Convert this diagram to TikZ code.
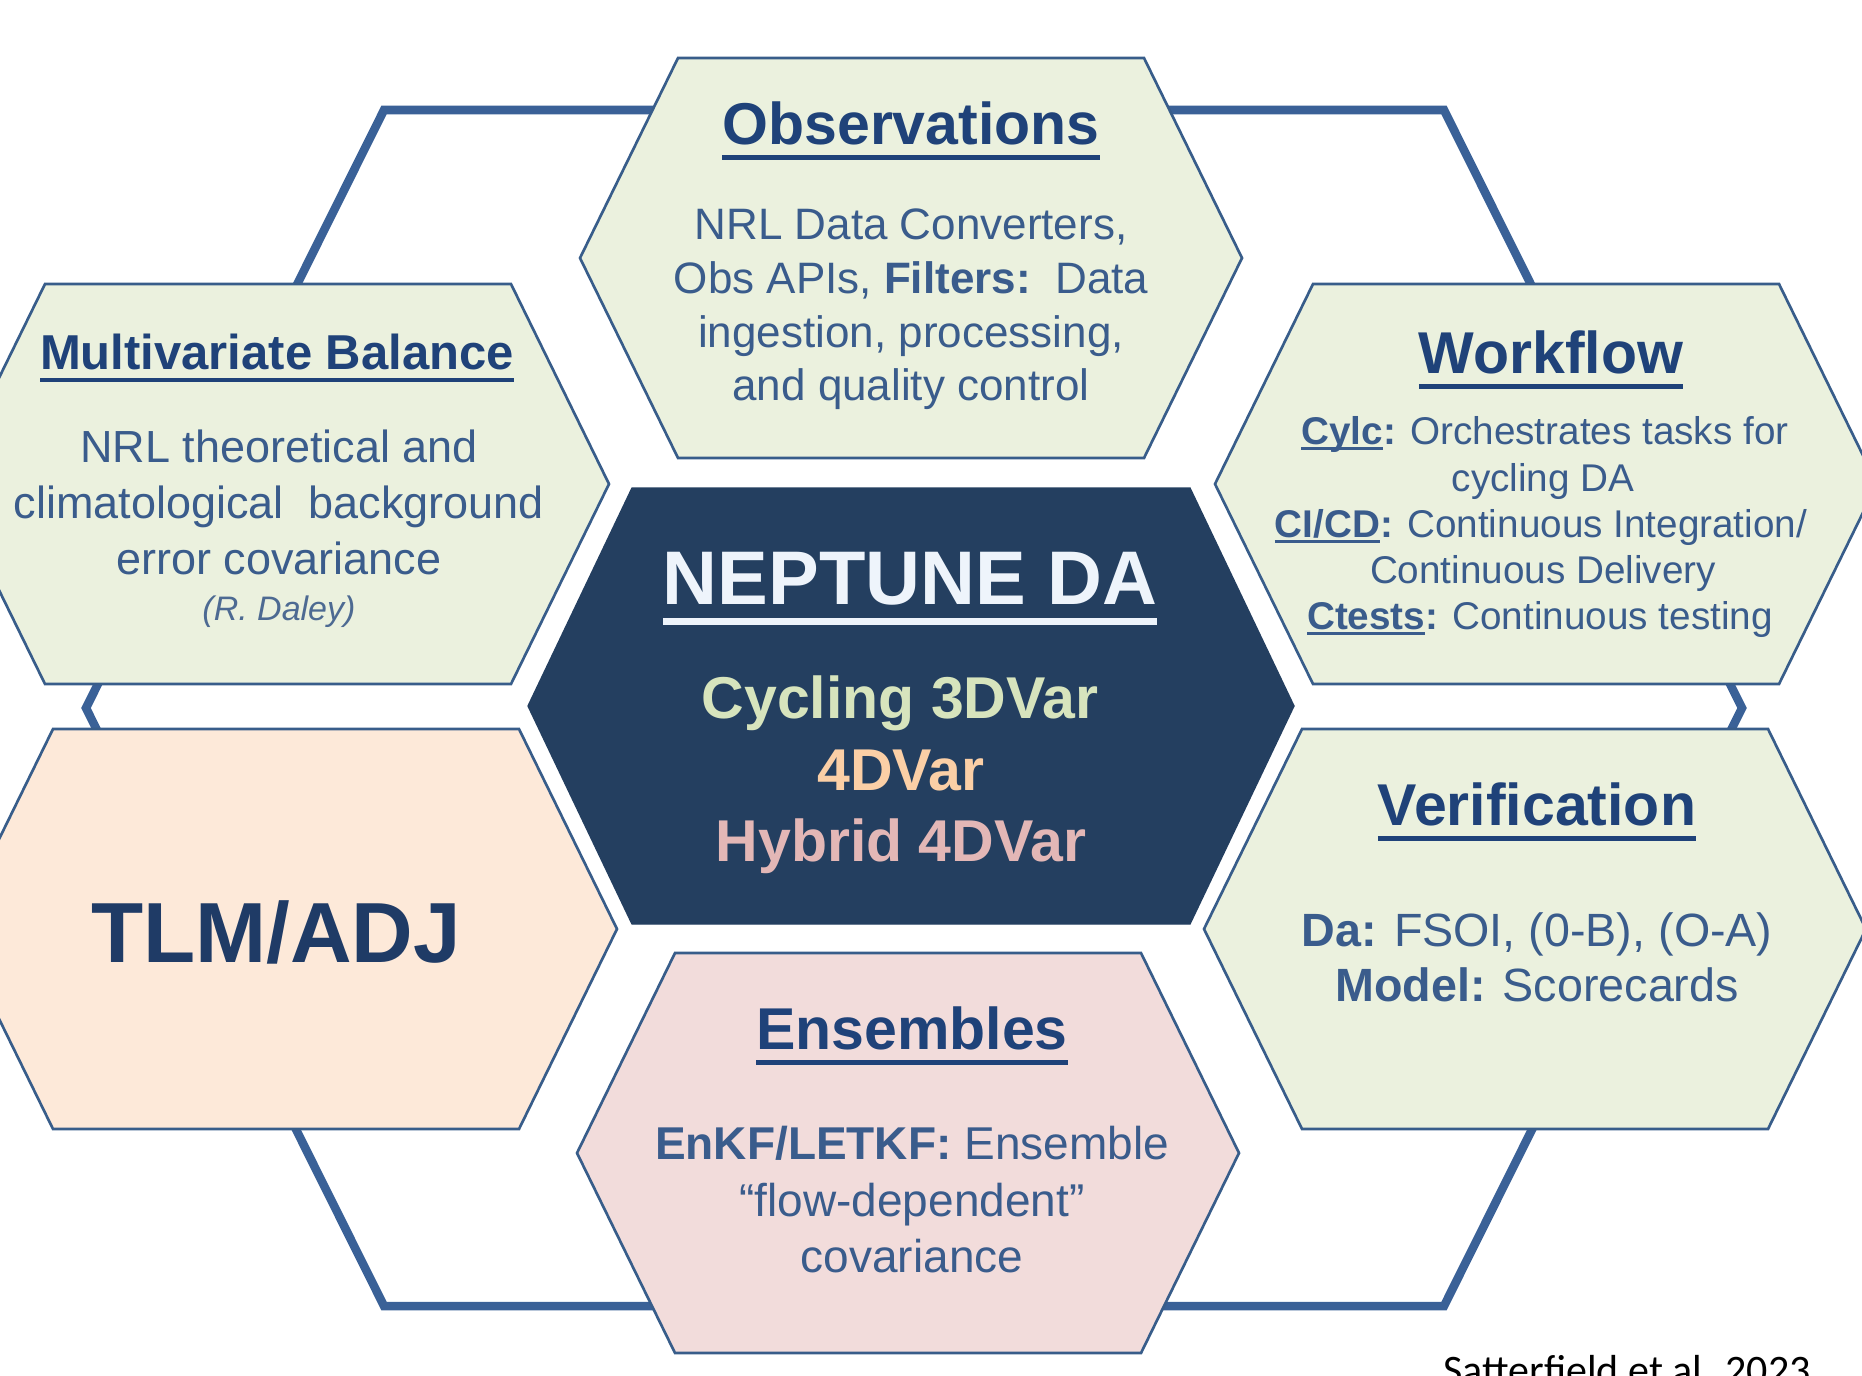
\documentclass[tikz,border=0pt]{standalone}
\usepackage{fontspec}
\setmainfont{Liberation Sans}
\newfontfamily\citefont{Carlito}

\definecolor{ringblue}{HTML}{3A6197}
\definecolor{hexline}{HTML}{385D8A}
\definecolor{hexgreen}{HTML}{EBF1DE}
\definecolor{hexpeach}{HTML}{FDE9D9}
\definecolor{hexpink}{HTML}{F2DCDB}
\definecolor{hexnavy}{HTML}{243F60}
\definecolor{headblue}{HTML}{1F4279}
\definecolor{bodyblue}{HTML}{3A5C8C}
\definecolor{daleyblue}{HTML}{4D6A92}
\definecolor{tlmnavy}{HTML}{1F3B66}
\definecolor{nepwhite}{HTML}{EEF4FB}
\definecolor{cycgreen}{HTML}{D7E4BD}
\definecolor{varpeach}{HTML}{FBCFA6}
\definecolor{hybpink}{HTML}{E3B7B6}

% underlined headings and keywords
\newsavebox\ulbox
\newcommand{\headul}[1]{\sbox\ulbox{#1}\rlap{\rule[-0.27em]{\wd\ulbox}{0.09em}}\usebox\ulbox}
\newcommand{\keyul}[1]{\sbox\ulbox{#1}\rlap{\rule[-0.15em]{\wd\ulbox}{0.07em}}\usebox\ulbox}

\tikzset{every picture/.style={line width=0.75pt}}
\tikzset{
  hexframe/.style={draw=hexline, line width=2pt},
  greenhex/.style={hexframe, fill=hexgreen},
  peachhex/.style={hexframe, fill=hexpeach},
  pinkhex/.style={hexframe, fill=hexpink},
  corehex/.style={draw=hexnavy, fill=hexnavy, line width=1pt},
  hextitle/.style={anchor=base, inner sep=0pt, text=headblue, font=\bfseries\fontsize{44.25}{50}\selectfont},
  hexbody/.style={anchor=base, inner sep=0pt, text=bodyblue},
}

\begin{document}
\begin{tikzpicture}[x=0.75pt,y=0.75pt,yscale=-1,xscale=1]
\useasboundingbox (0,0) rectangle (1862,1375);

%Shape: Hexagon (outer ring)
\draw [color=ringblue, line width=6.4pt] (384,110) -- (1444,110) -- (1742,708) -- (1444,1306) -- (384,1306) -- (86,708) -- cycle ;

%Shape: Hexagon (Observations)
\draw [greenhex] (678,58) -- (1144,58) -- (1242,258) -- (1144,458) -- (678,458) -- (580,258) -- cycle ;
%Shape: Hexagon (Multivariate Balance)
\draw [greenhex] (45,284) -- (511,284) -- (609,484) -- (511,684) -- (45,684) -- (-53,484) -- cycle ;
%Shape: Hexagon (Workflow)
\draw [greenhex] (1313,284) -- (1779,284) -- (1877,484) -- (1779,684) -- (1313,684) -- (1215,484) -- cycle ;
%Shape: Hexagon (TLM/ADJ)
\draw [peachhex] (53,729) -- (519,729) -- (617,929) -- (519,1129) -- (53,1129) -- (-45,929) -- cycle ;
%Shape: Hexagon (Verification)
\draw [greenhex] (1302,729) -- (1768,729) -- (1866,929) -- (1768,1129) -- (1302,1129) -- (1204,929) -- cycle ;
%Shape: Hexagon (Ensembles)
\draw [pinkhex] (675,953) -- (1141,953) -- (1239,1153) -- (1141,1353) -- (675,1353) -- (577,1153) -- cycle ;
%Shape: Hexagon (NEPTUNE DA)
\draw [corehex] (632,488) -- (1190,488) -- (1294,706) -- (1190,924) -- (632,924) -- (528,706) -- cycle ;

% Text Node
\draw (911,144) node (obstitle) [hextitle] {\headul{Observations}};
% Text Node
\draw (911,239) node (obsA) [hexbody, font=\fontsize{33}{40}\selectfont] {NRL Data Converters,};
% Text Node
\draw (911,293) node (obsB) [hexbody, font=\fontsize{33}{40}\selectfont] {Obs APIs, \textbf{Filters:}~~Data};
% Text Node
\draw (911,347) node (obsC) [hexbody, font=\fontsize{33}{40}\selectfont] {ingestion, processing,};
% Text Node
\draw (911,400) node (obsD) [hexbody, font=\fontsize{33}{40}\selectfont] {and quality control};

% Text Node
\draw (277,369) node (mvbtitle) [hextitle, font=\bfseries\fontsize{36.75}{44}\selectfont] {\headul{Multivariate Balance}};
% Text Node
\draw (279,462) node (mvbA) [hexbody, font=\fontsize{33.75}{40}\selectfont] {NRL theoretical and};
% Text Node
\draw (279,518) node (mvbB) [hexbody, font=\fontsize{33.75}{40}\selectfont] {climatological~~background};
% Text Node
\draw (279,574) node (mvbC) [hexbody, font=\fontsize{33.75}{40}\selectfont] {error covariance};
% Text Node
\draw (279,620) node (mvbD) [hexbody, text=daleyblue, font=\itshape\fontsize{25.5}{30}\selectfont] {(R. Daley)};

% Text Node
\draw (1551,373) node (wftitle) [hextitle] {\headul{Workflow}};
% Text Node
\draw (1545,444) node (wfA) [hexbody, font=\fontsize{29}{35}\selectfont] {\textbf{\keyul{Cylc}:} Orchestrates tasks for};
% Text Node
\draw (1543,491) node (wfB) [hexbody, font=\fontsize{29}{35}\selectfont] {cycling DA};
% Text Node
\draw (1541,537) node (wfC) [hexbody, font=\fontsize{29}{35}\selectfont] {\textbf{\keyul{CI/CD}:} Continuous Integration/};
% Text Node
\draw (1543,583) node (wfD) [hexbody, font=\fontsize{29}{35}\selectfont] {Continuous Delivery};
% Text Node
\draw (1540,629) node (wfE) [hexbody, font=\fontsize{29}{35}\selectfont] {\textbf{\keyul{Ctests}:} Continuous testing};

% Text Node
\draw (910,604) node (neptitle) [hextitle, text=nepwhite, font=\bfseries\fontsize{57}{64}\selectfont] {\headul{NEPTUNE DA}};
% Text Node
\draw (900,718) node (nepA) [hextitle, text=cycgreen] {Cycling 3DVar};
% Text Node
\draw (901,790) node (nepB) [hextitle, text=varpeach] {4DVar};
% Text Node
\draw (901,861) node (nepC) [hextitle, text=hybpink] {Hybrid 4DVar};

% Text Node
\draw (276,962) node (tlm) [hextitle, text=tlmnavy, font=\bfseries\fontsize{64}{72}\selectfont] {TLM/ADJ};

% Text Node
\draw (1537,825) node (vertitle) [hextitle] {\headul{Verification}};
% Text Node
\draw (1537,946) node (verA) [hexbody, font=\fontsize{35}{42}\selectfont] {\textbf{Da:} FSOI, (0-B), (O-A)};
% Text Node
\draw (1537,1001) node (verB) [hexbody, font=\fontsize{35}{42}\selectfont] {\textbf{Model:} Scorecards};

% Text Node
\draw (912,1049) node (enstitle) [hextitle] {\headul{Ensembles}};
% Text Node
\draw (912,1159) node (ensA) [hexbody, font=\fontsize{34.5}{42}\selectfont] {\textbf{EnKF/LETKF:} Ensemble};
% Text Node
\draw (912,1216) node (ensB) [hexbody, font=\fontsize{34.5}{42}\selectfont] {“flow-dependent”};
% Text Node
\draw (912,1272) node (ensC) [hexbody, font=\fontsize{34.5}{42}\selectfont] {covariance};

% Text Node
\draw (1627,1384) node (cite) [anchor=base, inner sep=0pt, font=\citefont\fontsize{31.5}{38}\selectfont] {Satterfield et al. 2023};

\end{tikzpicture}
\end{document}
